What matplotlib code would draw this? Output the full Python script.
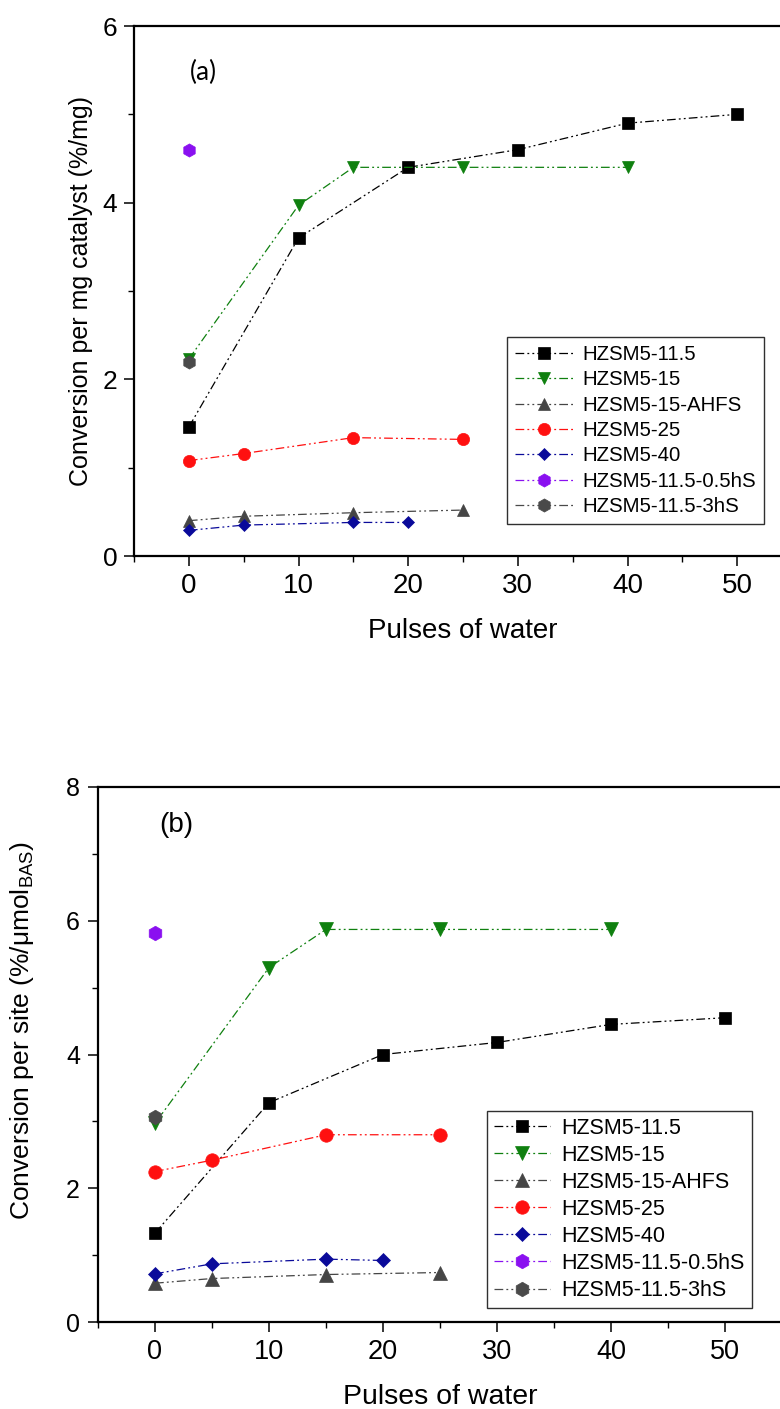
import matplotlib
matplotlib.use("Agg")
import matplotlib.pyplot as plt
from matplotlib.ticker import MultipleLocator, FixedLocator

plt.rcParams['font.family'] = ['Liberation Sans', 'DejaVu Sans']
plt.rcParams['mathtext.fontset'] = 'custom'
plt.rcParams['mathtext.rm'] = 'Liberation Sans'
plt.rcParams['mathtext.it'] = 'Liberation Sans:italic'

# ---------------- data ----------------
labels = ['HZSM5-11.5', 'HZSM5-15', 'HZSM5-15-AHFS', 'HZSM5-25', 'HZSM5-40',
          'HZSM5-11.5-0.5hS', 'HZSM5-11.5-3hS']

x_115 = [0, 10, 20, 30, 40, 50]
a_115 = [1.46, 3.60, 4.40, 4.60, 4.90, 5.00]
b_115 = [1.33, 3.28, 4.00, 4.18, 4.45, 4.55]

x_15 = [0, 10, 15, 25, 40]
a_15 = [2.23, 3.97, 4.40, 4.40, 4.40]
b_15 = [2.97, 5.30, 5.87, 5.87, 5.87]

x_ahfs = [0, 5, 15, 25]
a_ahfs = [0.40, 0.45, 0.49, 0.52]
b_ahfs = [0.58, 0.65, 0.71, 0.74]

x_25 = [0, 5, 15, 25]
a_25 = [1.08, 1.16, 1.34, 1.32]
b_25 = [2.25, 2.42, 2.80, 2.80]

x_40 = [0, 5, 15, 20]
a_40 = [0.29, 0.35, 0.38, 0.38]
b_40 = [0.72, 0.87, 0.94, 0.92]

x_05hs = [0]
a_05hs = [4.60]
b_05hs = [5.82]

x_3hs = [0]
a_3hs = [2.20]
b_3hs = [3.06]

x_ticks = [0, 10, 20, 30, 40, 50]

# ---------------- styles ----------------
styles = [
    dict(marker='s', color='#000000', ms=8.0),
    dict(marker='v', color='#0f800f', ms=9.0),
    dict(marker='^', color='#454545', ms=9.0),
    dict(marker='o', color='#ff1010', ms=8.8),
    dict(marker='D', color='#0a0a9a', ms=6.3),
    dict(marker='h', color='#8a10f0', ms=9.5),
    dict(marker='h', color='#4a4a4a', ms=9.5),
]
dash = (0, (7, 2.5, 1.5, 2.5, 1.5, 2.5))

fig = plt.figure(figsize=(7.80, 14.09), dpi=100)
W, H = 780.0, 1409.0


def make_axes(left, right, top, bottom):
    return fig.add_axes([left / W, 1 - bottom / H, (right - left) / W, (bottom - top) / H])


def style_axes(ax, ymax, xfs, yfs, pad_y, pad_x):
    ax.set_xlim(-5, 55)
    ax.set_ylim(0, ymax)
    ax.xaxis.set_major_locator(FixedLocator(x_ticks))
    ax.xaxis.set_minor_locator(MultipleLocator(5))
    ax.yaxis.set_major_locator(MultipleLocator(2))
    ax.yaxis.set_minor_locator(MultipleLocator(1))
    for s in ['top', 'left', 'bottom']:
        ax.spines[s].set_linewidth(1.6)
    ax.spines['right'].set_visible(False)
    ax.tick_params(axis='both', which='major', direction='out', length=7, width=1.1,
                   top=False, right=False)
    ax.tick_params(axis='both', which='minor', direction='out', length=4, width=1.0,
                   top=False, right=False)
    ax.tick_params(axis='y', which='major', pad=pad_y, labelsize=yfs)
    ax.tick_params(axis='x', which='major', pad=pad_x, labelsize=xfs)


def draw(ax, series, scale, leg_fs, leg_anchor, handlelength, borderpad, labelspacing, textpad):
    for (xs, ys), st, lab in zip(series, styles, labels):
        ax.plot(xs, ys, linestyle=dash, linewidth=0.9, color=st['color'],
                marker=st['marker'], markersize=st['ms'] * scale,
                markerfacecolor=st['color'], markeredgecolor=st['color'],
                markeredgewidth=0.5, label=lab, clip_on=False)
    leg = ax.legend(loc='upper left', bbox_to_anchor=(leg_anchor[0] / W, 1 - leg_anchor[1] / H),
                    bbox_transform=fig.transFigure, borderaxespad=0, fontsize=leg_fs,
                    frameon=True, fancybox=False, framealpha=1, edgecolor='#303030',
                    handlelength=handlelength, borderpad=borderpad,
                    labelspacing=labelspacing, handletextpad=textpad)
    leg.get_frame().set_linewidth(1.0)
    return leg


# ---------------- panel (a) ----------------
ax1 = make_axes(134, 792, 26, 556)
style_axes(ax1, 6, 20, 19, 5, 5)
draw(ax1, [(x_115, a_115), (x_15, a_15), (x_ahfs, a_ahfs), (x_25, a_25), (x_40, a_40),
           (x_05hs, a_05hs), (x_3hs, a_3hs)],
     1.0, 14.7, (507, 337), 2.85, 0.4, 0.31, 0.45)
ax1.set_xlabel('Pulses of water', fontsize=20, labelpad=14)
ax1.set_ylabel('Conversion per mg catalyst (%/mg)', fontsize=18, labelpad=7)
ax1.text(1.3, 5.47, '(a)', fontsize=19, family=['Lato', 'DejaVu Sans'], ha='center', va='center')

# ---------------- panel (b) ----------------
ax2 = make_axes(98, 782, 787, 1322)
style_axes(ax2, 8, 19.5, 18, 6, 5)
draw(ax2, [(x_115, b_115), (x_15, b_15), (x_ahfs, b_ahfs), (x_25, b_25), (x_40, b_40),
           (x_05hs, b_05hs), (x_3hs, b_3hs)],
     1.1, 15.5, (487, 1111), 2.6, 0.32, 0.28, 0.55)
ax2.set_xlabel('Pulses of water', fontsize=20.5, labelpad=14)
ax2.set_ylabel('Conversion per site (%/\u03bcmol$_{\\mathrm{BAS}}$)', fontsize=19, labelpad=10)
ax2.yaxis.set_label_coords(-0.09, 0.545)
ax2.text(1.9, 7.43, '(b)', fontsize=20, ha='center', va='center')

fig.savefig('out.png', dpi=100)
